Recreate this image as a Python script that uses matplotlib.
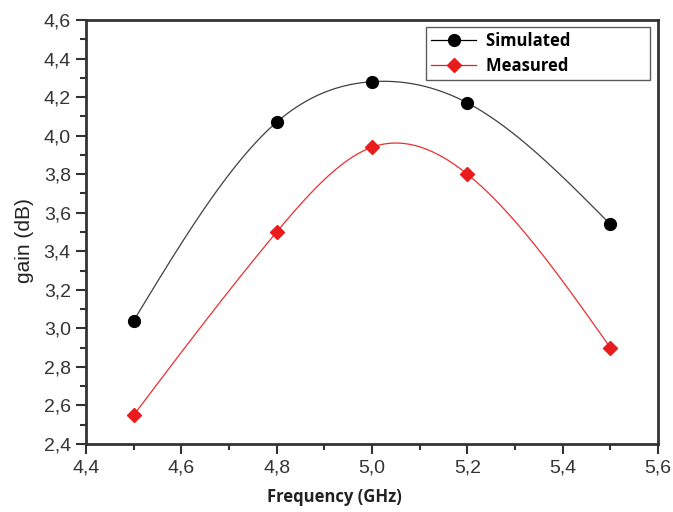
import numpy as np
import matplotlib
matplotlib.use("Agg")
import matplotlib.pyplot as plt
from matplotlib.ticker import MultipleLocator, FuncFormatter

freq = [4.5, 4.8, 5.0, 5.2, 5.5]
simulated = [3.04, 4.07, 4.28, 4.17, 3.54]
measured = [2.55, 3.50, 3.94, 3.80, 2.90]


def natural_spline(x, y, xs):
    x = np.asarray(x, float); y = np.asarray(y, float)
    n = len(x)
    h = np.diff(x)
    A = np.zeros((n, n)); b = np.zeros(n)
    A[0, 0] = 1; A[-1, -1] = 1
    for i in range(1, n - 1):
        A[i, i - 1] = h[i - 1]
        A[i, i] = 2 * (h[i - 1] + h[i])
        A[i, i + 1] = h[i]
        b[i] = 6 * ((y[i + 1] - y[i]) / h[i] - (y[i] - y[i - 1]) / h[i - 1])
    M = np.linalg.solve(A, b)
    out = np.empty_like(xs)
    for k, xv in enumerate(xs):
        i = min(np.searchsorted(x, xv) - 1, n - 2)
        i = max(i, 0)
        t1 = x[i + 1] - xv; t0 = xv - x[i]
        out[k] = (M[i] * t1**3 + M[i + 1] * t0**3) / (6 * h[i]) \
            + (y[i] / h[i] - M[i] * h[i] / 6) * t1 \
            + (y[i + 1] / h[i] - M[i + 1] * h[i] / 6) * t0
    return out


fig = plt.figure(figsize=(6.73, 5.12), dpi=100)
ax = fig.add_axes([86 / 673, 1 - 444 / 512, (658 - 86) / 673, (444 - 20) / 512])

xs = np.linspace(freq[0], freq[-1], 300)
ax.plot(xs, natural_spline(freq, simulated, xs), color='#404040', lw=0.9)
ax.plot(xs, natural_spline(freq, measured, xs), color='#e83030', lw=0.9)
ax.plot(freq, simulated, 'o', color='black', ms=8.5, ls='none')
ax.plot(freq, measured, 'D', color='#e81c1c', ms=7.5, ls='none')

# legend proxies
pad = '\u00a0' * 17
ax.plot([], [], '-o', color='black', ms=8.5, lw=0.9, label='Simulated' + pad)
ax.plot([], [], '-D', color='#e81c1c', ms=7.5, lw=0.9, label='Measured' + pad)
leg = ax.legend(loc='upper right', bbox_to_anchor=(0.986, 0.983), borderaxespad=0,
                frameon=True, fancybox=False, edgecolor='#333333', borderpad=0.3,
                handlelength=2.7, handletextpad=0.6, labelspacing=0.42,
                prop={'family': 'Open Sans', 'weight': 'bold', 'size': 12})
leg.get_frame().set_linewidth(1.0)

ax.set_xlim(4.4, 5.6)
ax.set_ylim(2.4, 4.6)
ax.xaxis.set_major_locator(MultipleLocator(0.2))
ax.xaxis.set_minor_locator(MultipleLocator(0.1))
ax.yaxis.set_major_locator(MultipleLocator(0.2))
ax.yaxis.set_minor_locator(MultipleLocator(0.1))
fmt = FuncFormatter(lambda v, p: f"{v:.1f}".replace('.', ','))
ax.xaxis.set_major_formatter(fmt)
ax.yaxis.set_major_formatter(fmt)
ax.tick_params(which='major', direction='out', length=7, width=1.5, labelsize=14,
               color='#333333', labelcolor='#333333', pad=4)
ax.tick_params(which='minor', direction='out', length=4, width=1.5, color='#333333')
for lab in ax.get_xticklabels() + ax.get_yticklabels():
    lab.set_family('Liberation Sans')
for s in ax.spines.values():
    s.set_linewidth(2.0)
    s.set_color('#333333')

ax.set_xlabel('Frequency (GHz)', fontsize=12, fontweight='bold', family='Open Sans',
              color='#222222')
ax.xaxis.set_label_coords((334 - 86) / 572, (444 - 488) / 424)
ax.set_ylabel('gain (dB)', fontsize=15, family='Liberation Sans', color='#222222')
ax.yaxis.set_label_coords((34 - 86) / 572, (444 - 241) / 424)

fig.savefig('out.png', dpi=100)
